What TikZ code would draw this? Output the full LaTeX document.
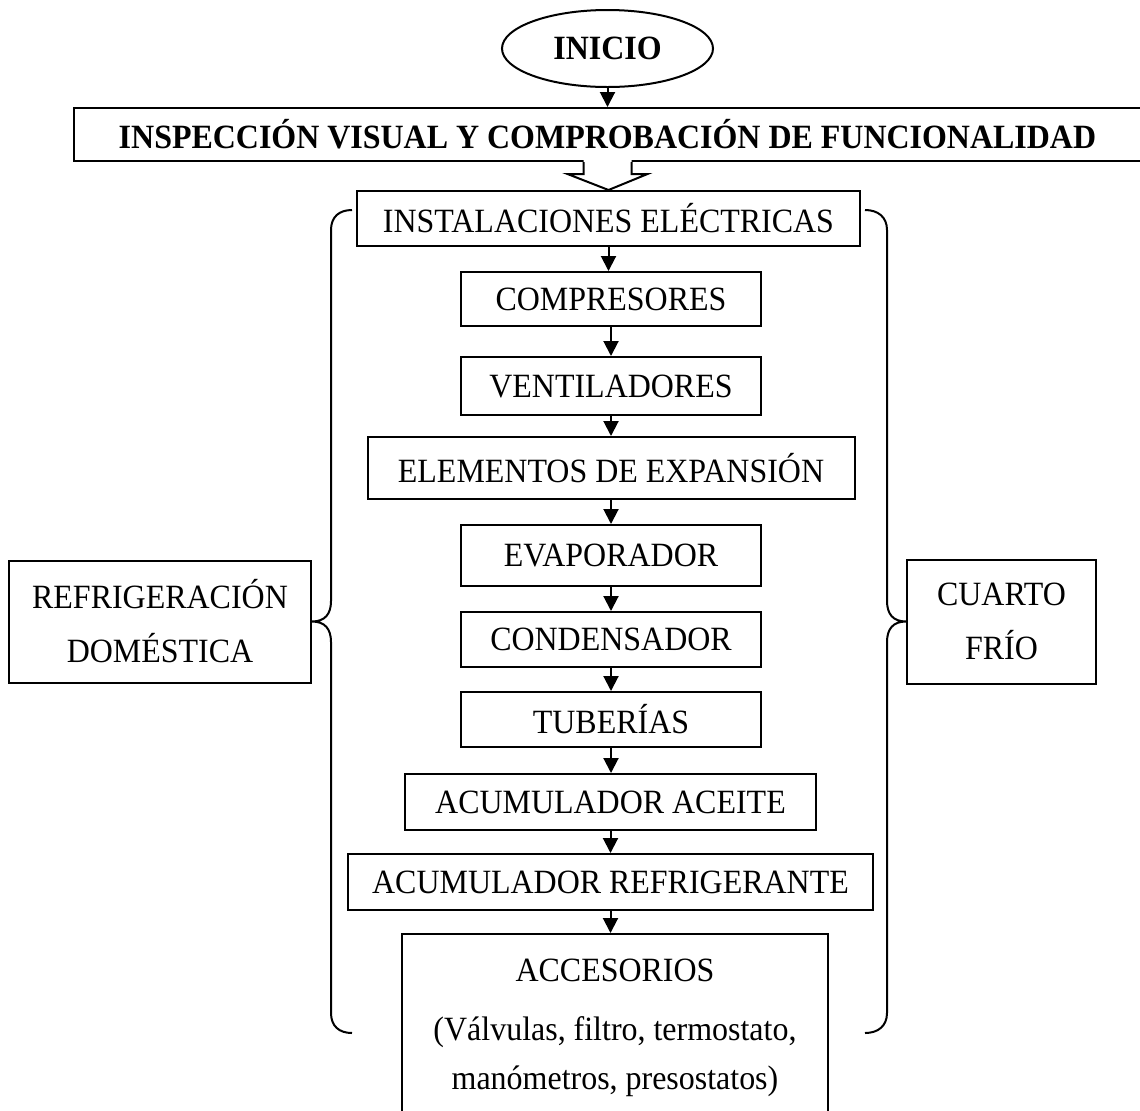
\documentclass[tikz,border=0pt]{standalone}
\usepackage{fontspec}
\setmainfont{Liberation Serif}[FakeStretch=0.94]
\usetikzlibrary{arrows.meta, shapes.geometric, calc, positioning}
\tikzset{
  % one pixel of the layout is half a point
  every picture/.append style = {line width=1pt, >={Triangle[length=7.5pt, width=7.5pt]}},
  partbox/.style   = {draw, rectangle, inner sep=0pt, align=center,
                      font=\fontsize{17}{27}\selectfont},
  titlebox/.style  = {partbox, font=\fontsize{17}{27}\selectfont\bfseries},
  startnode/.style = {draw, ellipse, inner sep=0pt,
                      font=\fontsize{17}{27}\selectfont\bfseries},
  flow/.style      = {->},
  sidebrace/.style = {line width=1pt, line join=round},
}

\begin{document}
\begin{tikzpicture}[x=0.5pt, y=-0.5pt]
  \useasboundingbox (0,0) rectangle (1140,1110);
  % start and general inspection
  \node[startnode, minimum width=105.5pt, minimum height=38.5pt] (inicio) at (607.5,48.5) {INICIO};
  \node[titlebox, minimum width=533.5pt, minimum height=26.5pt] (insp) at (607.5,134.5)
    {INSPECCIÓN VISUAL Y COMPROBACIÓN DE FUNCIONALIDAD};
  \draw[flow] (inicio) -- (insp);
  % chain of parts
  \node[partbox, minimum width=251.5pt, minimum height=27.5pt] (inst) at (608.5,218.5) {INSTALACIONES ELÉCTRICAS};
  \node[partbox, minimum width=150pt, minimum height=27pt]   (comp) at (611,299)   {COMPRESORES};
  \node[partbox, minimum width=150pt, minimum height=29pt]   (vent) at (611,386)   {VENTILADORES};
  \node[partbox, minimum width=243.5pt, minimum height=31pt] (elem) at (611,468)   {ELEMENTOS DE EXPANSIÓN};
  \node[partbox, minimum width=150pt, minimum height=30.5pt] (evap) at (611,555.5) {EVAPORADOR};
  \node[partbox, minimum width=150pt, minimum height=27.5pt] (cond) at (611,639.5) {CONDENSADOR};
  \node[partbox, minimum width=150pt, minimum height=27.5pt] (tub)  at (611,719.5) {TUBERÍAS};
  \node[partbox, minimum width=205.5pt, minimum height=28pt] (acei) at (610.5,802) {ACUMULADOR ACEITE};
  \node[partbox, minimum width=262.5pt, minimum height=28pt] (refr) at (610.5,882) {ACUMULADOR REFRIGERANTE};
  \node[partbox, anchor=north, minimum width=213pt, minimum height=100pt] (acc) at (615,933) {};
  \node[anchor=north, yshift=-9pt, align=center, font=\fontsize{17}{24.5}\selectfont] (acctext) at (acc.north)
    {ACCESORIOS\\[5pt](Válvulas, filtro, termostato,\\manómetros, presostatos)};
  \foreach \a/\b in {inst/comp, comp/vent, vent/elem, elem/evap, evap/cond,
                     cond/tub, tub/acei, acei/refr, refr/acc}
    \draw[flow] (\a.south) -- (\a.south |- \b.north);
  % hollow arrow into the first part
  \fill[white] ($(insp.south)+(-24,-2)$) -- ($(insp.south)+(-24,12)$) -- ($(insp.south)+(-40,12)$)
    -- (inst.north) -- ($(insp.south)+(40,12)$) -- ($(insp.south)+(24,12)$) -- ($(insp.south)+(24,-2)$) -- cycle;
  \draw ($(insp.south)+(-24,0)$) -- ++(0,12) -- ++(-16,0) -- (inst.north)
    -- ($(insp.south)+(40,12)$) -- ++(-16,0) -- ++(0,-12);
  % side groups
  \node[partbox, minimum width=151pt, minimum height=61pt] (dom) at (160,621.5) {REFRIGERACIÓN\\DOMÉSTICA};
  \node[partbox, minimum width=94.5pt, minimum height=62pt] (frio) at (1001.5,621.5) {CUARTO\\FRÍO};
  \draw[sidebrace] (352,210) .. controls (339,210) and (331,217) .. (331,230) -- (331,601)
    .. controls (331,614) and (325,621.5) .. (dom.east)
    .. controls (325,621.5) and (331,629) .. (331,642) -- (331,1013)
    .. controls (331,1026) and (339,1033) .. (352,1033);
  \draw[sidebrace] (865,210) .. controls (878,210) and (887,217) .. (887,230) -- (887,601)
    .. controls (887,614) and (893,621.5) .. (frio.west)
    .. controls (893,621.5) and (887,629) .. (887,642) -- (887,1013)
    .. controls (887,1026) and (878,1033) .. (865,1033);
\end{tikzpicture}
\end{document}
